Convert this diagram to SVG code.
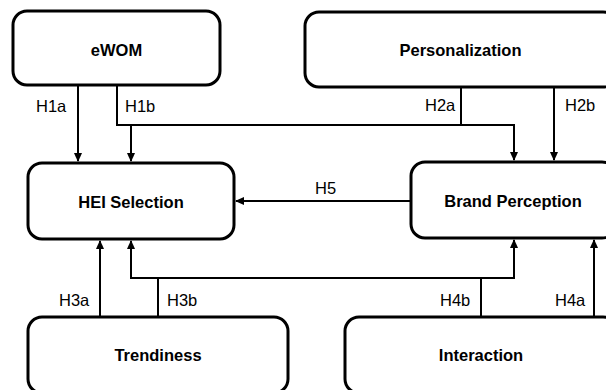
<svg xmlns="http://www.w3.org/2000/svg" width="606" height="390" viewBox="0 0 606 390">
  <style>
    .box { fill: #ffffff; stroke: #000000; stroke-width: 3; }
    .title { font-family: "Liberation Sans", Arial, sans-serif; font-weight: bold; font-size: 16.5px; fill: #000000; text-anchor: middle; }
    .lbl { font-family: "Liberation Sans", Arial, sans-serif; font-size: 16.5px; fill: #000000; }
    .conn { fill: none; stroke: #000000; stroke-width: 2; }
  </style>
  <defs>
    <marker id="arr" markerUnits="userSpaceOnUse" markerWidth="9" markerHeight="8" refX="8" refY="4" orient="auto">
      <path d="M0,0 L9,4 L0,8 z" fill="#000000"/>
    </marker>
  </defs>
  <rect width="606" height="390" fill="#ffffff"/>

  <g id="connectors">
    <path id="c-h1a" class="conn" d="M78,85 V161" marker-end="url(#arr)"/>
    <path id="c-h1b" class="conn" d="M117,85 V125 H514 V160" marker-end="url(#arr)"/>
    <path id="c-h2a" class="conn" d="M461,87 V125 H131 V161" marker-end="url(#arr)"/>
    <path id="c-h2b" class="conn" d="M554,87 V160" marker-end="url(#arr)"/>
    <path id="c-h5" class="conn" d="M411,201 H236" marker-end="url(#arr)"/>
    <path id="c-h3a" class="conn" d="M100,317 V241" marker-end="url(#arr)"/>
    <path id="c-h3b" class="conn" d="M158,317 V278 H514 V240" marker-end="url(#arr)"/>
    <path id="c-h4b" class="conn" d="M481,317 V278 H131 V241" marker-end="url(#arr)"/>
    <path id="c-h4a" class="conn" d="M594,317 V240" marker-end="url(#arr)"/>
    <text class="lbl" x="36" y="112">H1a</text>
    <text class="lbl" x="125" y="112">H1b</text>
    <text class="lbl" x="425" y="111">H2a</text>
    <text class="lbl" x="565" y="111">H2b</text>
    <text class="lbl" x="315" y="194">H5</text>
    <text class="lbl" x="59" y="306">H3a</text>
    <text class="lbl" x="167" y="306">H3b</text>
    <text class="lbl" x="440" y="306">H4b</text>
    <text class="lbl" x="555" y="306">H4a</text>
  </g>

  <g id="ewom">
    <rect class="box" x="13" y="11" width="207" height="74" rx="14"/>
    <text class="title" x="116.5" y="55.5">eWOM</text>
  </g>
  <g id="personalization">
    <rect class="box" x="305" y="12" width="312" height="75" rx="14"/>
    <text class="title" x="460.5" y="56">Personalization</text>
  </g>
  <g id="hei-selection">
    <rect class="box" x="28" y="163" width="206" height="76" rx="14"/>
    <text class="title" x="131" y="207.5">HEI Selection</text>
  </g>
  <g id="brand-perception">
    <rect class="box" x="411" y="162" width="205" height="76" rx="14"/>
    <text class="title" x="513" y="206.5">Brand Perception</text>
  </g>
  <g id="trendiness">
    <rect class="box" x="28" y="317" width="260" height="76" rx="14"/>
    <text class="title" x="158" y="361">Trendiness</text>
  </g>
  <g id="interaction">
    <rect class="box" x="345" y="317" width="272" height="76" rx="14"/>
    <text class="title" x="481" y="361">Interaction</text>
  </g>
</svg>
